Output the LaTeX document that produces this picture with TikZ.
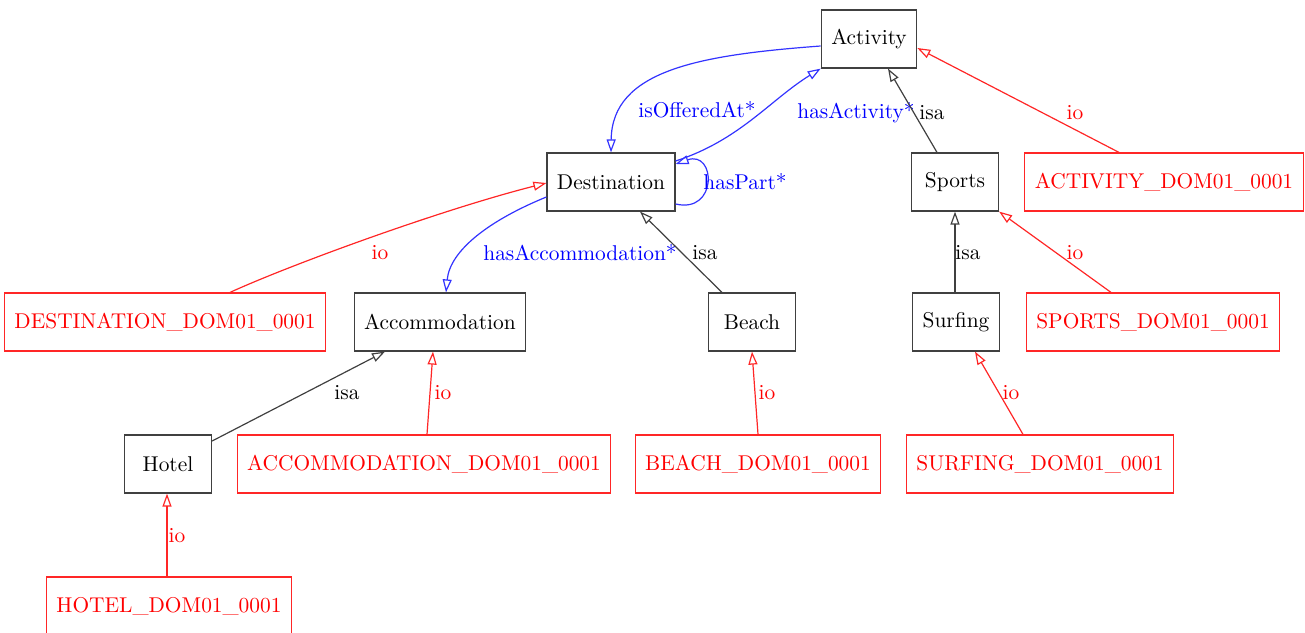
\documentclass[tikz,border=0pt]{standalone}
\usetikzlibrary{arrows.meta}
\tikzset{every node/.style={font=\fontsize{10.7}{13}\selectfont},
  cls/.style={draw=black!75,line width=0.6pt,minimum height=29pt,minimum width=43.5pt,inner xsep=5pt},
  inst/.style={draw=red!85,text=red,line width=0.6pt,minimum height=29pt,inner xsep=5pt},
  lbl/.style={inner sep=1pt},
  tip/.style={-{Triangle[open,length=6.5pt,width=4.5pt]}},
  isa/.style={tip,draw=black!75,line width=0.6pt},
  io/.style={tip,draw=red!85,line width=0.6pt},
  rel/.style={tip,draw=blue!80,line width=0.6pt}}

\begin{document}
\begin{tikzpicture}[x=0.5pt,y=-0.5pt]
      \useasboundingbox (0,0) rectangle (1305,632);
      \clip (0,0) rectangle (1305,632);

      \node[cls] (act) at (869,39) {Activity};
      \node[cls] (dest) at (611,182) {Destination};
      \node[cls] (sports) at (955,182) {Sports};
      \node[inst] (actI) at (1164,182) {ACTIVITY\_DOM01\_0001};
      \node[inst] (destI) at (165,322) {DESTINATION\_DOM01\_0001};
      \node[cls] (acc) at (440,322) {Accommodation};
      \node[cls] (beach) at (752,322) {Beach};
      \node[cls] (surf) at (956,322) {Surfing};
      \node[inst] (sportsI) at (1153,322) {SPORTS\_DOM01\_0001};
      \node[cls] (hotel) at (168,464) {Hotel};
      \node[inst] (accI) at (424,464) {ACCOMMODATION\_DOM01\_0001};
      \node[inst] (beachI) at (758,464) {BEACH\_DOM01\_0001};
      \node[inst] (surfI) at (1040,464) {SURFING\_DOM01\_0001};
      \node[inst] (hotelI) at (169,606) {HOTEL\_DOM01\_0001};

      % relations
      \draw[rel] (act.west |- 0,46) .. controls (700,55) and (612,70) .. (dest.north);
      \draw[rel] (dest.east |- 0,161) .. controls (740,140) and (770,100) .. (act.south west);
      \draw[rel] (dest.east |- 0,204) .. controls (718,214) and (716,150) .. (dest.east |- 0,164);
      \draw[rel] (dest.west |- 0,197) .. controls (490,220) and (450,250) .. (acc.north -| 446,0);
      \node[lbl,text=blue] (l1) at (697,110) {isOfferedAt*};
      \node[lbl,text=blue] (l2) at (856,113) {hasActivity*};
      \node[lbl,text=blue] (l3) at (745,182) {hasPart*};
      \node[lbl,text=blue] (l4) at (580,253) {hasAccommodation*};

      % isa
      \draw[isa] (sports.north -| 937,0) -- (act.south -| 888,0);
      \draw[isa] (beach.north -| 722,0) -- (dest.south -| 640,0);
      \draw[isa] (surf.north -| 955,0) -- (sports.south -| 955,0);
      \draw[isa] (hotel.north east |- 0,441) -- (acc.south -| 385,0);
      \node[lbl] (l5) at (932,113) {isa};
      \node[lbl] (l6) at (705,253) {isa};
      \node[lbl] (l7) at (968,253) {isa};
      \node[lbl] (l8) at (347,393) {isa};

      % io
      \draw[io] (actI.north -| 1119,0) -- (act.east |- 0,48);
      \draw[io] (destI.north -| 230,0) .. controls (290,265) and (440,210) .. (dest.west |- 0,183);
      \draw[io] (sportsI.north -| 1111,0) -- (sports.south east);
      \draw[io] (accI.north -| 427,0) -- (acc.south -| 433,0);
      \draw[io] (beachI.north -| 758,0) -- (beach.south -| 752,0);
      \draw[io] (surfI.north -| 1023,0) -- (surf.south -| 975,0);
      \draw[io] (hotelI.north -| 167,0) -- (hotel.south -| 167,0);
      \node[lbl,text=red] (l9) at (1075,113) {io};
      \node[lbl,text=red] (l10) at (380,253) {io};
      \node[lbl,text=red] (l11) at (1075,253) {io};
      \node[lbl,text=red] (l12) at (443,393) {io};
      \node[lbl,text=red] (l13) at (767,393) {io};
      \node[lbl,text=red] (l14) at (1011,393) {io};
      \node[lbl,text=red] (l15) at (177,536) {io};
\end{tikzpicture}
\end{document}
